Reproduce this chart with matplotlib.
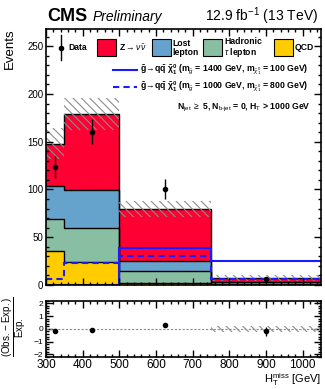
import numpy as np
import matplotlib
matplotlib.use("Agg")
import matplotlib.pyplot as plt
from matplotlib.patches import Rectangle
from matplotlib.lines import Line2D
from matplotlib.ticker import MultipleLocator

# HT^miss binning and background stack
edges = [300, 350, 500, 750, 1050]
qcd = [36, 24.5, 2.5, 0.3]
tau = [33, 35, 12.5, 1.0]
lost = [34.5, 40, 10, 1.5]
znunu = [44.5, 79.5, 54.5, 4.7]
bkg_unc = [16, 17, 8.5, 3.0]

# observed data
data_x = [325, 425, 625, 900]
data_y = [124, 160.5, 100.5, 6]
data_err = [11.5, 13, 10, 2.5]

# signal benchmarks
sig_1400_100 = [0.3, 0.3, 38.7, 25]
sig_1000_800 = [6.6, 23, 30.7, 6.6]

# relative uncertainty band in the ratio pad
ratio_band = [0.02, 0.02, 0.02, 0.22]

plt.rcParams['font.family'] = ['Liberation Sans', 'DejaVu Sans']
plt.rcParams['mathtext.fontset'] = 'custom'
plt.rcParams['mathtext.rm'] = 'Liberation Sans'
plt.rcParams['mathtext.it'] = 'Liberation Sans:italic'
plt.rcParams['mathtext.bf'] = 'Liberation Sans:bold'
plt.rcParams['hatch.linewidth'] = 0.8

c_z = '#ff0033'
c_lost = '#66a3cc'
c_tau = '#88bea2'
c_qcd = '#ffcc00'
c_sig = '#1a1aff'

W, H = 325, 389
fig = plt.figure(figsize=(W / 100, H / 100), dpi=100)


def fx(px):
    return px / W


def fy(py):
    return 1 - py / H


ax = fig.add_axes([fx(46), fy(285), fx(321) - fx(46), fy(29) - fy(285)])
rax = fig.add_axes([fx(46), fy(357), fx(321) - fx(46), fy(300.7) - fy(357)])

# stacked backgrounds
comps = [(qcd, c_qcd), (tau, c_tau), (lost, c_lost), (znunu, c_z)]
base = np.zeros(len(qcd))
for vals, col in comps:
    top = base + np.array(vals)
    ax.stairs(top, edges, baseline=base, fill=True, color=col, lw=0)
    base = top
base = np.zeros(len(qcd))
for vals, col in comps:
    base = base + np.array(vals)
    ax.stairs(base, edges, baseline=None, color='k', lw=1.0)
total = base

# uncertainty hatch
widths = np.diff(edges)
ax.bar(edges[:-1], 2 * np.array(bkg_unc), bottom=total - np.array(bkg_unc),
       width=widths, align='edge', facecolor='none', edgecolor='#8c8c8c',
       hatch='\\\\\\\\', lw=0)

# signals
ax.stairs(sig_1400_100, edges, baseline=None, color=c_sig, lw=1.5)
ax.stairs(sig_1000_800, edges, baseline=None, color=c_sig, lw=1.5,
          linestyle=(0, (3, 2)))

# data
ax.errorbar(data_x, data_y, yerr=data_err, fmt='o', color='k', ms=3,
            elinewidth=1, capsize=0)

ax.set_xlim(300, 1050)
ax.set_ylim(0, 268)
ax.xaxis.set_major_locator(MultipleLocator(100))
ax.xaxis.set_minor_locator(MultipleLocator(20))
ax.yaxis.set_major_locator(MultipleLocator(50))
ax.yaxis.set_minor_locator(MultipleLocator(10))
ax.set_xticklabels([])
for a in (ax, rax):
    a.tick_params(which='both', direction='in', top=True, right=True,
                  width=1)
    a.tick_params(which='major', length=5)
    a.tick_params(which='minor', length=2.5)
    for s in a.spines.values():
        s.set_linewidth(1.2)
ax.tick_params(labelsize=7, pad=2)

# ratio pad
data_arr = np.array(data_y)
ratio = (data_arr - total) / total
ratio_err = np.array(data_err) / total
rax.bar(edges[:-1], 2 * np.array(ratio_band), bottom=-np.array(ratio_band),
        width=widths, align='edge', facecolor='none', edgecolor='#8c8c8c',
        hatch='\\\\\\\\', lw=0)
rax.axhline(0, color='#8c8c8c', lw=0.8, linestyle=(0, (2, 1.5)))
rax.errorbar(data_x, ratio, yerr=ratio_err, fmt='o', color='k', ms=3,
             elinewidth=1, capsize=0)
rax.set_xlim(300, 1050)
rax.set_ylim(-2.2, 2.2)
rax.xaxis.set_major_locator(MultipleLocator(100))
rax.xaxis.set_minor_locator(MultipleLocator(20))
rax.yaxis.set_major_locator(MultipleLocator(1))
rax.yaxis.set_minor_locator(MultipleLocator(0.2))
rax.tick_params(axis='x', labelsize=8.5, pad=1.5)
rax.tick_params(axis='y', labelsize=6, pad=2)

# titles and axis labels
fig.text(fx(47), fy(21), 'CMS', fontsize=13, fontweight='bold', va='baseline')
fig.text(fx(93), fy(21), 'Preliminary', fontsize=10, style='italic',
         va='baseline')
fig.text(fx(318), fy(21), r'12.9 fb$^{-1}$ (13 TeV)', fontsize=10,
         ha='right', va='baseline')
fig.text(fx(10), fy(28), 'Events', fontsize=9.5, rotation=90,
         ha='center', va='top')
fig.text(fx(14), fy(327), r'$\frac{\mathrm{(Obs.-Exp.)}}{\mathrm{Exp.}}$',
         fontsize=10, rotation=90, ha='center', va='center')
fig.text(fx(321), fy(388.5), r'H$_{\mathrm{T}}^{\mathrm{miss}}$ [GeV]',
         fontsize=8, ha='right', va='bottom')

# legend
leg_fs = 6.2
fig.add_artist(Line2D([fx(61), fx(61)], [fy(35), fy(60)], color='k', lw=1))
fig.add_artist(Line2D([fx(61)], [fy(47.5)], marker='o', color='k', ms=3))
fig.text(fx(68), fy(48), 'Data', fontsize=leg_fs, fontweight='bold',
         va='center')
boxes = [(97, c_z), (152, c_lost), (203, c_tau), (274, c_qcd)]
for x0, col in boxes:
    fig.add_artist(Rectangle((fx(x0), fy(56)), fx(19), fy(39) - fy(56),
                             facecolor=col, edgecolor='k', lw=0.8))
fig.text(fx(119), fy(48), r'Z$\rightarrow\nu\bar{\nu}$', fontsize=leg_fs,
         fontweight='bold', va='center')
fig.text(fx(172), fy(48), 'Lost\nlepton', fontsize=leg_fs, fontweight='bold',
         va='center', linespacing=0.95)
fig.text(fx(224), fy(48), 'Hadronic\n' + r'$\tau$ lepton', fontsize=leg_fs,
         fontweight='bold', va='center', linespacing=0.95)
fig.text(fx(295), fy(48), 'QCD', fontsize=leg_fs, fontweight='bold',
         va='center')

fig.add_artist(Line2D([fx(113), fx(137)], [fy(70), fy(70)], color=c_sig,
                      lw=1.5))
fig.add_artist(Line2D([fx(113), fx(137)], [fy(87), fy(87)], color=c_sig,
                      lw=1.5, linestyle=(0, (3, 2))))
sig_txt = (r'$\mathbf{\tilde{g}\!\rightarrow\! q\bar{q}\ \tilde{\chi}^{0}_{1}}$'
           r' (m$_{\tilde{g}}$ = {} GeV, m$_{\tilde{\chi}^{0}_{1}}$ = {} GeV)')
fig.text(fx(140), fy(70), sig_txt.replace('{}', '1400', 1).replace('{}', '100', 1),
         fontsize=leg_fs, fontweight='bold', va='center')
fig.text(fx(140), fy(87), sig_txt.replace('{}', '1000', 1).replace('{}', '800', 1),
         fontsize=leg_fs, fontweight='bold', va='center')
fig.text(fx(177), fy(108),
         r'N$_{\mathrm{jet}}$ $\geq$ 5, N$_{\mathrm{b\text{-}jet}}$ = 0, H$_{\mathrm{T}}$ > 1000 GeV',
         fontsize=leg_fs, fontweight='bold', va='center')

fig.savefig('out.png', dpi=100)
